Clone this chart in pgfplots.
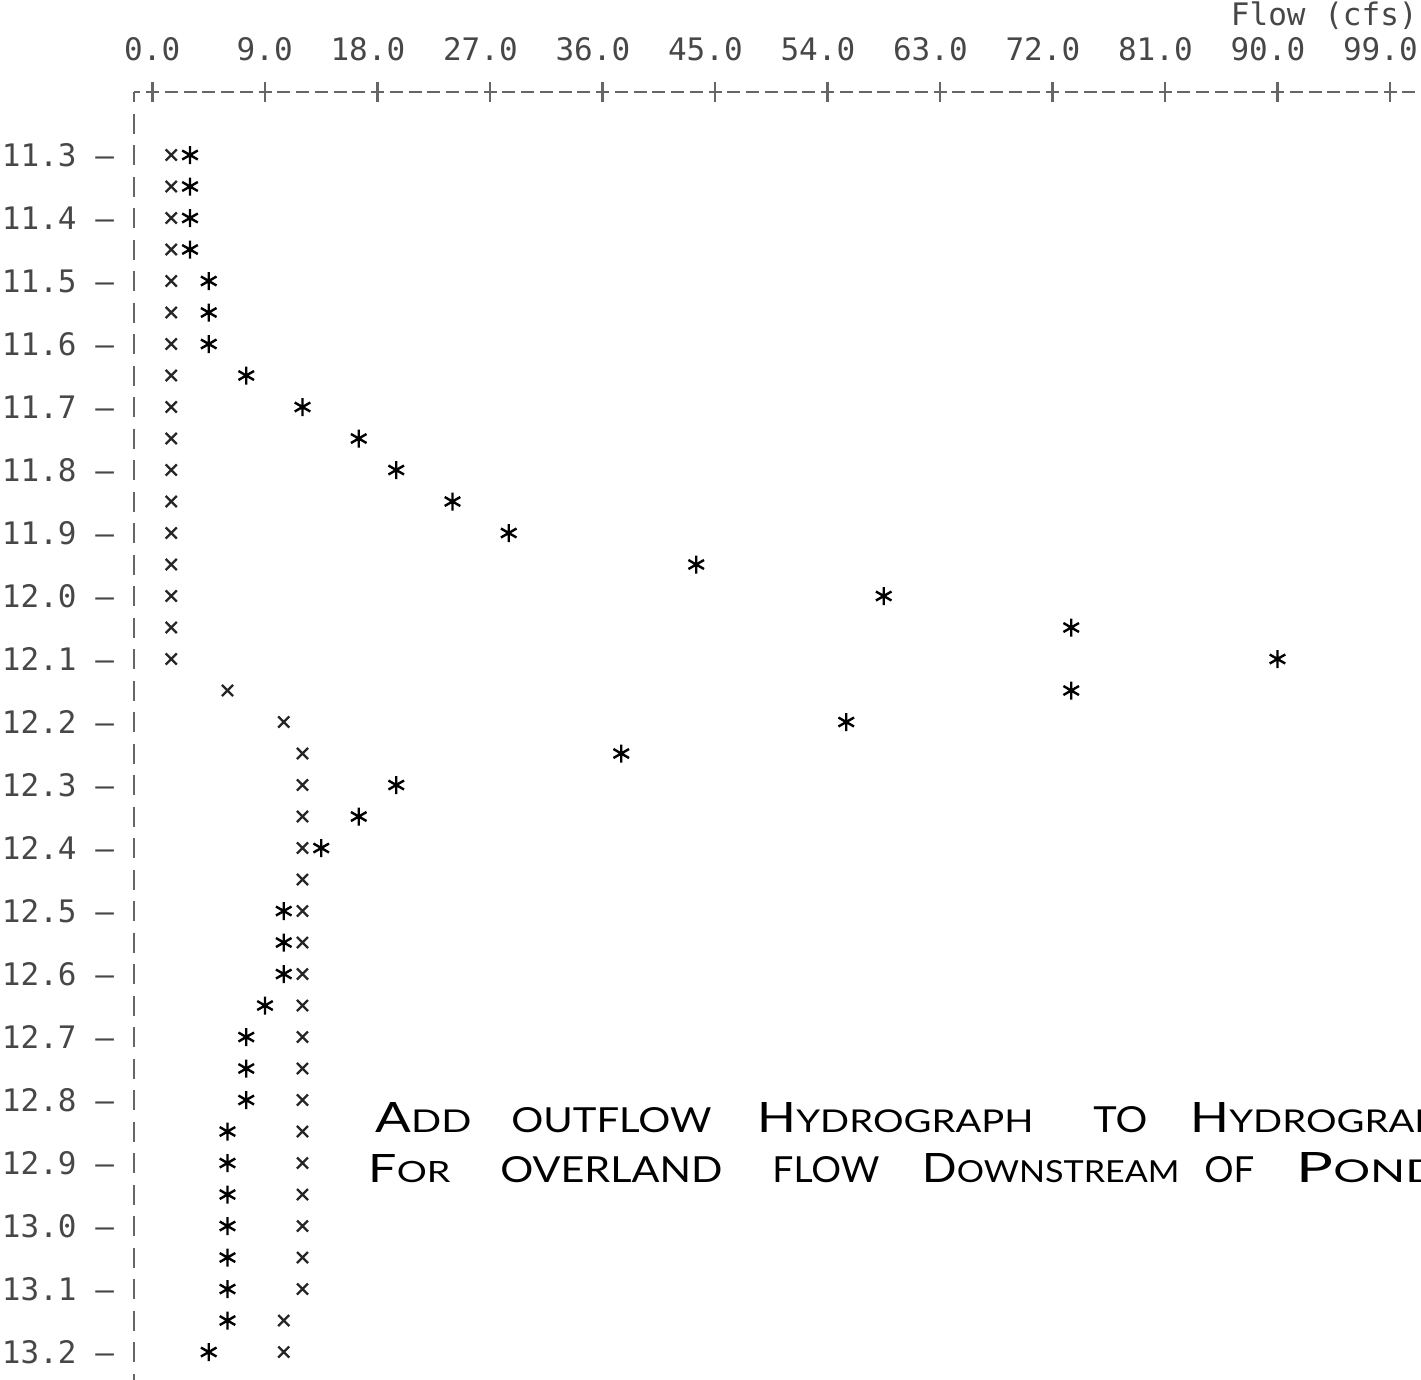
\documentclass[border=0pt]{standalone}
\usepackage{fontspec}
\usepackage{graphicx}
\usepackage{pgfplots}
\pgfplotsset{compat=1.18}
\newfontfamily\prt{DejaVu Sans Mono}
\newfontfamily\hand{Lato}
\newcommand{\pf}{\prt\fontsize{15.5bp}{18bp}\selectfont}
\newcommand{\hw}[3]{\resizebox{#1}{#2}{\hand #3}}
\newcommand{\B}[1]{{\fontsize{20bp}{20bp}\selectfont #1}}
\newcommand{\s}[1]{{\fontsize{15bp}{15bp}\selectfont #1}}

\begin{document}
\begin{tikzpicture}
\path[use as bounding box] (0,0) rectangle (710.5bp,690bp);
\clip (0,0) rectangle (710.5bp,690bp);
\begin{axis}[
  at={(66.875bp,644bp)}, anchor=north west,
  scale only axis, width=643.6bp, height=644bp,
  xmin=-1.5, xmax=101.48, ymin=11.2, ymax=13.2444,
  y dir=reverse,
  axis x line*=top, axis y line*=left,
  x axis line style={-, black!60, line width=0.9bp, dash pattern=on 6.5bp off 2.875bp, dash phase=3.25bp},
  y axis line style={-, black!60, line width=1.1bp, dash pattern=on 10bp off 5.75bp, dash phase=5bp},
  xtick={0,9,18,27,36,45,54,63,72,81,90,99},
  xticklabels={0.0,9.0,18.0,27.0,36.0,45.0,54.0,63.0,72.0,81.0,90.0,99.0},
  xtick style={black!60, line width=1.2bp},
  major tick length=10bp, tick align=center,
  xticklabel style={font=\pf, text=black!72, anchor=base east, inner sep=0pt, xshift=14.06bp, yshift=10.75bp},
  ytick={11.3,11.4,11.5,11.6,11.7,11.8,11.9,12.0,12.1,12.2,12.3,12.4,12.5,12.6,12.7,12.8,12.9,13.0,13.1,13.2},
  yticklabels={11.3 –,11.4 –,11.5 –,11.6 –,11.7 –,11.8 –,11.9 –,12.0 –,12.1 –,12.2 –,12.3 –,12.4 –,12.5 –,12.6 –,12.7 –,12.8 –,12.9 –,13.0 –,13.1 –,13.2 –},
  ytick style={draw=none},
  yticklabel style={font=\pf, text=black!72, anchor=east, inner sep=0pt, xshift=-4.69bp},
  clip=false,
]
% x series
\addplot[only marks, mark=x, mark size=3.9bp, mark options={line width=1.2bp, black!85}] table[x=q, y=t] {
q t
1.5 11.30
1.5 11.35
1.5 11.40
1.5 11.45
1.5 11.50
1.5 11.55
1.5 11.60
1.5 11.65
1.5 11.70
1.5 11.75
1.5 11.80
1.5 11.85
1.5 11.90
1.5 11.95
1.5 12.00
1.5 12.05
1.5 12.10
6.0 12.15
10.5 12.20
12.0 12.25
12.0 12.30
12.0 12.35
12.0 12.40
12.0 12.45
12.0 12.50
12.0 12.55
12.0 12.60
12.0 12.65
12.0 12.70
12.0 12.75
12.0 12.80
12.0 12.85
12.0 12.90
12.0 12.95
12.0 13.00
12.0 13.05
12.0 13.10
10.5 13.15
10.5 13.20
};
% asterisk series
\addplot[only marks, mark=asterisk, mark size=4.5bp, mark options={line width=1.2bp, black}] table[x=q, y=t] {
q t
3.0 11.30
3.0 11.35
3.0 11.40
3.0 11.45
4.5 11.50
4.5 11.55
4.5 11.60
7.5 11.65
12.0 11.70
16.5 11.75
19.5 11.80
24.0 11.85
28.5 11.90
43.5 11.95
58.5 12.00
73.5 12.05
90.0 12.10
73.5 12.15
55.5 12.20
37.5 12.25
19.5 12.30
16.5 12.35
13.5 12.40
10.5 12.50
10.5 12.55
10.5 12.60
9.0 12.65
7.5 12.70
7.5 12.75
7.5 12.80
6.0 12.85
6.0 12.90
6.0 12.95
6.0 13.00
6.0 13.05
6.0 13.10
6.0 13.15
4.5 13.20
};
\end{axis}
\node[anchor=east, inner sep=0pt, text=black!72, font=\pf] at (709bp,682bp) {Flow (cfs)};
% handwritten note
\begin{scope}[every node/.style={anchor=base west, inner sep=0pt}]
\node at (187.5bp,123.5bp) {\hw{48bp}{15bp}{\B{A}\s{DD}}};
\node at (255.5bp,123.5bp) {\hw{100bp}{12.5bp}{\s{OUTFLOW}}};
\node at (378.5bp,123.5bp) {\hw{138bp}{15bp}{\B{H}\s{YDROGRAPH}}};
\node at (546.5bp,123.5bp) {\hw{27bp}{13bp}{\s{TO}}};
\node at (595bp,123.5bp) {\hw{138bp}{15bp}{\B{H}\s{YDROGRAPH}}};
\node at (184bp,98.5bp) {\hw{41bp}{14bp}{\B{F}\s{OR}}};
\node at (250bp,98.5bp) {\hw{111bp}{13bp}{\s{OVERLAND}}};
\node at (386bp,98.5bp) {\hw{53.5bp}{13bp}{\s{FLOW}}};
\node at (461bp,98.5bp) {\hw{128.5bp}{14.5bp}{\B{D}\s{OWNSTREAM}}};
\node at (602bp,98.5bp) {\hw{25bp}{13bp}{\s{OF}}};
\node at (648bp,98.5bp) {\hw{72bp}{15bp}{\B{P}\s{OND}}};
\end{scope}
\end{tikzpicture}
\end{document}
